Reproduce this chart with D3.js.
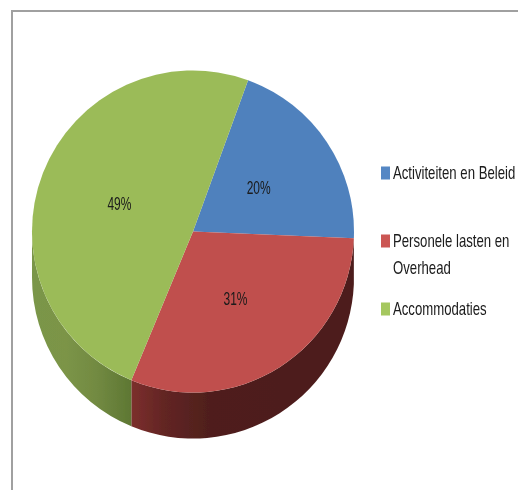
<!DOCTYPE html>
<html>
<head>
<meta charset="utf-8">
<script src="https://cdnjs.cloudflare.com/ajax/libs/d3/7.8.5/d3.min.js"></script>
<style>
  html, body { margin: 0; padding: 0; background: #fff; }
  svg { display: block; }
  text { font-family: "Liberation Sans", sans-serif; fill: #1a1a1a; }
</style>
</head>
<body>
<div id="chart"></div>
<script>
const categories = ["Activiteiten en Beleid", "Personele lasten en Overhead", "Accommodaties"];
const values = [20.1, 30.6, 49.3];
const colours = ["#4f81bd", "#c0504d", "#9bbb59"];
const legendColours = ["#5587c4", "#cb5653", "#a5c75f"];
const legendLines = [["Activiteiten en Beleid"], ["Personele lasten en", "Overhead"], ["Accommodaties"]];

const width = 518, height = 490;
const cx = 193, cy = 231.5, radius = 161, depth = 46, labelRadius = 79;
const startAngle = 20 * Math.PI / 180;

const svg = d3.select("#chart").append("svg").attr("width", width).attr("height", height);

const defs = svg.append("defs");

// The reference is a slightly soft screenshot
defs.append("filter").attr("id", "soft")
  .append("feGaussianBlur").attr("stdDeviation", 0.35);

const root = svg.append("g").attr("filter", "url(#soft)");

// Chart frame: only top and left edges are inside the picture
root.append("path")
  .attr("d", "M12,500V11H530")
  .attr("fill", "none")
  .attr("stroke", "#a0a0a0")
  .attr("stroke-width", 2);

// Side wall shading, stops (offset 0 is the left end)
const wallStops = [
  [],
  [[0, "#7c2f2d"], [0.15, "#622523"], [0.35, "#4f1f1d"], [1, "#4d1e1c"]],
  [[0, "#7a9648"], [0.35, "#7b9447"], [0.65, "#728a42"], [1, "#5e7733"]],
];

const pie = d3.pie().sort(null).value((d) => d)
  .startAngle(startAngle).endAngle(startAngle + 2 * Math.PI);
const slices = pie(values);

const arc = d3.arc().innerRadius(0).outerRadius(radius);
const labelArc = d3.arc().innerRadius(labelRadius).outerRadius(labelRadius);

const chart = root.append("g").attr("transform", `translate(${cx},${cy})`);

// Side wall between two angles on the front half of the pie
function wallPath(a0, a1) {
  const p = d3.path();
  p.arc(0, depth, radius, a0 - Math.PI / 2, a1 - Math.PI / 2, false);
  p.lineTo(radius * Math.sin(a1), -radius * Math.cos(a1));
  p.arc(0, 0, radius, a1 - Math.PI / 2, a0 - Math.PI / 2, true);
  p.closePath();
  return p.toString();
}

slices.forEach((s, i) => {
  const a0 = Math.max(s.startAngle, Math.PI / 2);
  const a1 = Math.min(s.endAngle, 1.5 * Math.PI);
  if (a1 <= a0 || wallStops[i].length === 0) return;
  const x0 = radius * Math.sin(a0), x1 = radius * Math.sin(a1);
  const grad = defs.append("linearGradient")
    .attr("id", `wall-${i}`)
    .attr("gradientUnits", "userSpaceOnUse")
    .attr("x1", Math.min(x0, x1)).attr("x2", Math.max(x0, x1))
    .attr("y1", 0).attr("y2", 0);
  wallStops[i].forEach((st) => grad.append("stop").attr("offset", st[0]).attr("stop-color", st[1]));
  chart.append("path").attr("d", wallPath(a0, a1)).attr("fill", `url(#wall-${i})`);
});

// Top face
chart.selectAll(".slice")
  .data(slices)
  .enter()
  .append("path")
  .attr("class", "slice")
  .attr("d", arc)
  .attr("fill", (d, i) => colours[i]);

// Percentage labels
chart.selectAll(".pct")
  .data(slices)
  .enter()
  .append("text")
  .attr("class", "pct")
  .attr("transform", (d) => {
    const c = labelArc.centroid(d);
    return `translate(${c[0]},${c[1] + 2}) scale(0.8,1.2)`;
  })
  .attr("text-anchor", "middle")
  .attr("dominant-baseline", "middle")
  .attr("font-size", 15)
  .text((d) => Math.round(d.value) + "%");

// Legend
const legendY = d3.scaleOrdinal().domain(categories).range([173, 241, 309]);
const legend = root.selectAll(".legend")
  .data(categories)
  .enter()
  .append("g")
  .attr("class", "legend")
  .attr("transform", (d) => `translate(381,${legendY(d)})`);

legend.append("rect")
  .attr("y", -6.5)
  .attr("width", 9)
  .attr("height", 13)
  .attr("fill", (d, i) => legendColours[i]);

legend.selectAll("text")
  .data((d, i) => legendLines[i])
  .enter()
  .append("text")
  .attr("transform", (d, i) => `translate(12,${6 + i * 27}) scale(0.85,1.2)`)
  .attr("font-size", 15.5)
  .text((d) => d);
</script>
</body>
</html>
